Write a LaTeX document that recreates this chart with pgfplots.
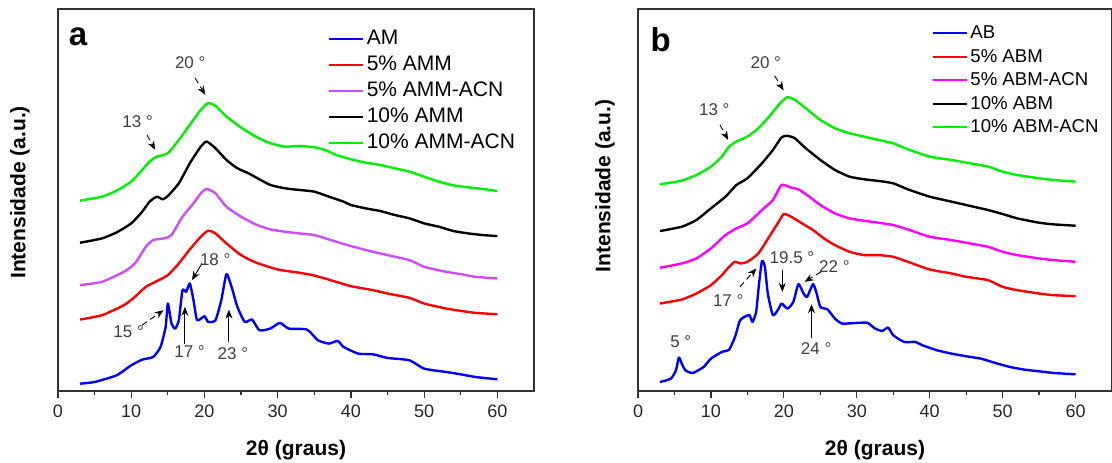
\documentclass[border=0pt]{standalone}
\usepackage{fontspec}
\setmainfont{Liberation Sans}
\usepackage{pgfplots}
\pgfplotsset{compat=1.18}
\usetikzlibrary{arrows.meta}
\definecolor{cblue}{RGB}{0,0,255}
\definecolor{cred}{RGB}{255,0,0}
\definecolor{cviolet}{RGB}{204,76,255}
\definecolor{cmag}{RGB}{255,0,255}
\definecolor{cgreen}{RGB}{0,240,0}
\definecolor{anno}{RGB}{64,64,64}
\tikzset{
  an/.style={font=\fontsize{8.5}{10}\selectfont, text=anno, inner sep=0pt},
  ar/.style={-{Stealth[length=4.5pt,width=3.5pt]}, line width=0.45pt, black},
}
\begin{document}
\begin{tikzpicture}
\useasboundingbox (0pt,0pt) rectangle (556pt,231pt);
\pgfplotsset{
  xrd/.style={
    scale only axis, height=191pt,
    xmin=0, xmax=65, ymin=0, ymax=1144,
    xtick={0,10,...,60}, minor x tick num=1, ytick=\empty,
    xtick pos=left, tick align=outside,
    major tick length=3.5pt, minor tick length=2pt,
    axis line style={draw=black!80, line width=0.7pt},
    every tick/.style={draw=black!80, line width=0.6pt},
    /pgf/number format/assume math mode=true,
    xticklabel style={font=\fontsize{9}{10}\selectfont, text=black!85},
    xlabel={2θ (graus)},
    xlabel style={at={(axis description cs:0.5,-0.154)}, anchor=center, font=\bfseries\fontsize{10.5}{12}\selectfont},
    ylabel={Intensidade (a.u.)},
    ylabel style={anchor=center, font=\bfseries\fontsize{10.5}{12}\selectfont},
    legend image code/.code={\draw[##1, line width=1pt] (0pt,0pt) -- (17pt,0pt);},
    every axis plot/.append style={line width=1.2pt, line join=round, smooth, tension=0.35},
  },
}
% ---------------- panel a ----------------
\begin{axis}[xrd, width=238pt, at={(29pt,35.5pt)}, anchor=south west,
  ylabel style={at={(axis description cs:-0.08,0.52)}},
  legend style={at={(axis description cs:0.566,0.957)}, anchor=north west, draw=none, fill=none,
    font=\fontsize{10.5}{12}\selectfont, row sep=0pt, inner sep=0pt,
    cells={anchor=west}, nodes={inner xsep=1.5pt, inner ysep=1pt, text height=8.5pt, text depth=2.5pt}}]
\addplot[cblue] coordinates {(3,22)(5,27)(8,47)(10,77)(11.5,94)(13,102)(14,132)(14.7,192)(15,262)(15.5,202)(16,187)(16.5,212)(17,302)(17.5,297)(18,322)(18.5,272)(19,212)(20,224)(20.5,207)(21.5,212)(22.3,272)(23,350)(23.7,312)(24.5,252)(25.5,207)(26.5,214)(27.5,182)(29,187)(30.3,204)(31.5,187)(34,184)(35.5,152)(37,142)(38.2,150)(39,132)(41,112)(43,110)(45,99)(48,92)(50,67)(53,57)(55,50)(57,42)(60,35)};
\addlegendentry{AM}
\addplot[cred] coordinates {(3,214)(6,227)(9,257)(10.5,282)(12,312)(13.5,329)(15,347)(16.5,382)(18,424)(19.5,462)(20.5,480)(21.5,472)(23,442)(25,407)(27,385)(30,364)(33,354)(35,346)(38,327)(40,314)(43,302)(45,292)(48,279)(50,262)(53,247)(55,240)(57,234)(60,230)};
\addlegendentry{5\% AMM}
\addplot[cviolet] coordinates {(3,317)(6,327)(9,357)(10.5,382)(12,432)(13,452)(14.5,457)(15.5,467)(17,522)(18.5,562)(19.5,592)(20.3,605)(21.5,592)(23,552)(25,522)(27,499)(29,484)(31,477)(33,472)(35,467)(37,454)(40,434)(43,417)(45,407)(48,392)(50,372)(53,357)(55,350)(57,342)(60,337)};
\addlegendentry{5\% AMM-ACN}
\addplot[black] coordinates {(3,444)(6,457)(8,475)(10,502)(11.5,537)(12.5,567)(13.5,582)(14.3,574)(15,584)(16.5,622)(18,682)(19.5,732)(20.3,747)(21.5,727)(23,692)(24.5,667)(26,652)(27.5,634)(29,617)(31,607)(33,602)(35,597)(37,582)(39,567)(40,557)(42,547)(44,539)(46,527)(48,517)(50,502)(52,492)(54,479)(56,472)(58,467)(60,464)};
\addlegendentry{10\% AMM}
\addplot[cgreen] coordinates {(3,570)(6,582)(8,600)(10,627)(11.5,662)(12.5,687)(13.5,702)(15,712)(16.5,752)(18,797)(19.5,842)(20.5,862)(21.5,854)(23,822)(25,789)(27,762)(29,742)(31,732)(33,734)(35,730)(36.5,722)(38,707)(40,694)(42,684)(44,677)(46,667)(48,657)(50,642)(52,627)(54,616)(56,610)(58,605)(60,599)};
\addlegendentry{10\% AMM-ACN}
\node[font=\bfseries\fontsize{16.5}{18}\selectfont, anchor=center] at (axis description cs:0.042,0.928) {a};
\node[an] at (axis cs:18.06,982) {20 °};
\draw[ar, densely dashed] (axis cs:18.74,937) -- (axis cs:20.11,887);
\node[an] at (axis cs:10.87,807) {13 °};
\draw[ar, densely dashed] (axis cs:12.15,767) -- (axis cs:13.28,722);
\node[an] at (axis cs:21.47,394) {18 °};
\draw[ar] (axis cs:19.65,382) -- (axis cs:18.29,332);
\node[an] at (axis cs:9.65,177) {15 °};
\draw[ar, densely dashed] (axis cs:11.46,197) -- (axis cs:14.42,242);
\node[an] at (axis cs:17.97,117) {17 °};
\draw[ar] (axis cs:17.33,142) -- (axis cs:17.33,252);
\node[an] at (axis cs:23.88,112) {23 °};
\draw[ar] (axis cs:23.34,147) -- (axis cs:23.34,244);
\end{axis}
% ---------------- panel b ----------------
\begin{axis}[xrd, width=237pt, at={(319pt,35.5pt)}, anchor=south west,
  ylabel style={at={(axis description cs:-0.07,0.537)}},
  legend style={at={(axis description cs:0.619,0.968)}, anchor=north west, draw=none, fill=none,
    font=\fontsize{9.3}{11}\selectfont, row sep=0pt, inner sep=0pt,
    cells={anchor=west}, nodes={inner xsep=1.3pt, inner ysep=0.8pt, text height=7.8pt, text depth=2.35pt}}]
\addplot[cblue] coordinates {(3,27)(4.5,37)(5.2,62)(5.6,100)(6,82)(6.5,62)(7.5,54)(9,72)(10,97)(11.5,117)(12.5,124)(13.3,162)(14,212)(14.8,224)(15.3,227)(15.7,207)(16.2,237)(16.6,322)(17,389)(17.4,372)(17.8,292)(18.5,227)(19.3,247)(19.7,262)(20.5,247)(21.3,267)(22,320)(22.7,292)(23.2,282)(24,320)(24.5,292)(25,252)(26,244)(27,217)(28,202)(30,204)(31.5,204)(32.5,187)(33.5,180)(34.3,190)(35,167)(36.5,147)(38,147)(39,137)(41,122)(43,112)(45,104)(47,97)(49,84)(51,72)(53,64)(55,59)(57,54)(60,50)};
\addlegendentry{AB}
\addplot[cred] coordinates {(3,262)(6,274)(8,292)(10,317)(11.5,347)(12.5,372)(13.3,387)(14,382)(15,387)(16.5,412)(18,462)(19.3,507)(20,530)(21,522)(22.5,502)(24,482)(25.5,457)(27,437)(29,417)(31,407)(33,407)(35,402)(37,387)(40,364)(43,352)(45,342)(48,332)(50,312)(52,302)(55,292)(57,287)(60,284)};
\addlegendentry{5\% ABM}
\addplot[cmag] coordinates {(3,369)(6,382)(8,397)(10,427)(12,467)(13.5,487)(15,502)(17,542)(18.5,572)(19.7,617)(21,609)(22,604)(23.5,582)(25,557)(27,532)(29,517)(31,510)(33,504)(35,497)(37,484)(40,462)(43,452)(45,444)(48,432)(50,417)(52,407)(55,397)(57,392)(60,387)};
\addlegendentry{5\% ABM-ACN}
\addplot[black] coordinates {(3,479)(6,492)(8,512)(10,547)(12,582)(13.5,617)(15,637)(17,682)(18.5,722)(19.7,760)(20.5,764)(21.5,757)(23,727)(25,692)(27,662)(29,642)(31,634)(33,629)(35,622)(37,604)(40,582)(43,567)(45,557)(48,542)(50,530)(52,517)(55,504)(57,499)(60,495)};
\addlegendentry{10\% ABM}
\addplot[cgreen] coordinates {(3,619)(6,630)(8,647)(10,672)(11.5,702)(12.5,732)(13.5,747)(15,762)(16.5,787)(18,822)(19.5,862)(20.5,880)(21.5,872)(23,847)(25,812)(27,787)(29,772)(31,762)(33,752)(35,742)(37,724)(40,702)(43,692)(45,684)(48,672)(50,657)(52,647)(55,637)(57,632)(60,627)};
\addlegendentry{10\% ABM-ACN}
\node[font=\bfseries\fontsize{16.5}{18}\selectfont, anchor=center] at (axis description cs:0.048,0.92) {b};
\node[an] at (axis cs:17.52,984) {20 °};
\draw[ar, densely dashed] (axis cs:18.74,944) -- (axis cs:19.97,900);
\node[an] at (axis cs:10.46,842) {13 °};
\draw[ar, densely dashed] (axis cs:11.24,797) -- (axis cs:12.37,752);
\node[an] at (axis cs:12.37,272) {17 °};
\draw[ar, densely dashed] (axis cs:13.97,312) -- (axis cs:16.24,367);
\node[an] at (axis cs:21.11,400) {19.5 °};
\draw[ar] (axis cs:19.79,362) -- (axis cs:19.79,297);
\node[an] at (axis cs:26.93,372) {22 °};
\draw[ar, densely dashed] (axis cs:25.11,357) -- (axis cs:22.84,327);
\node[an] at (axis cs:24.43,127) {24 °};
\draw[ar] (axis cs:23.79,160) -- (axis cs:23.79,260);
\node[an] at (axis cs:5.87,147) {5 °};
\end{axis}
\end{tikzpicture}
\end{document}
